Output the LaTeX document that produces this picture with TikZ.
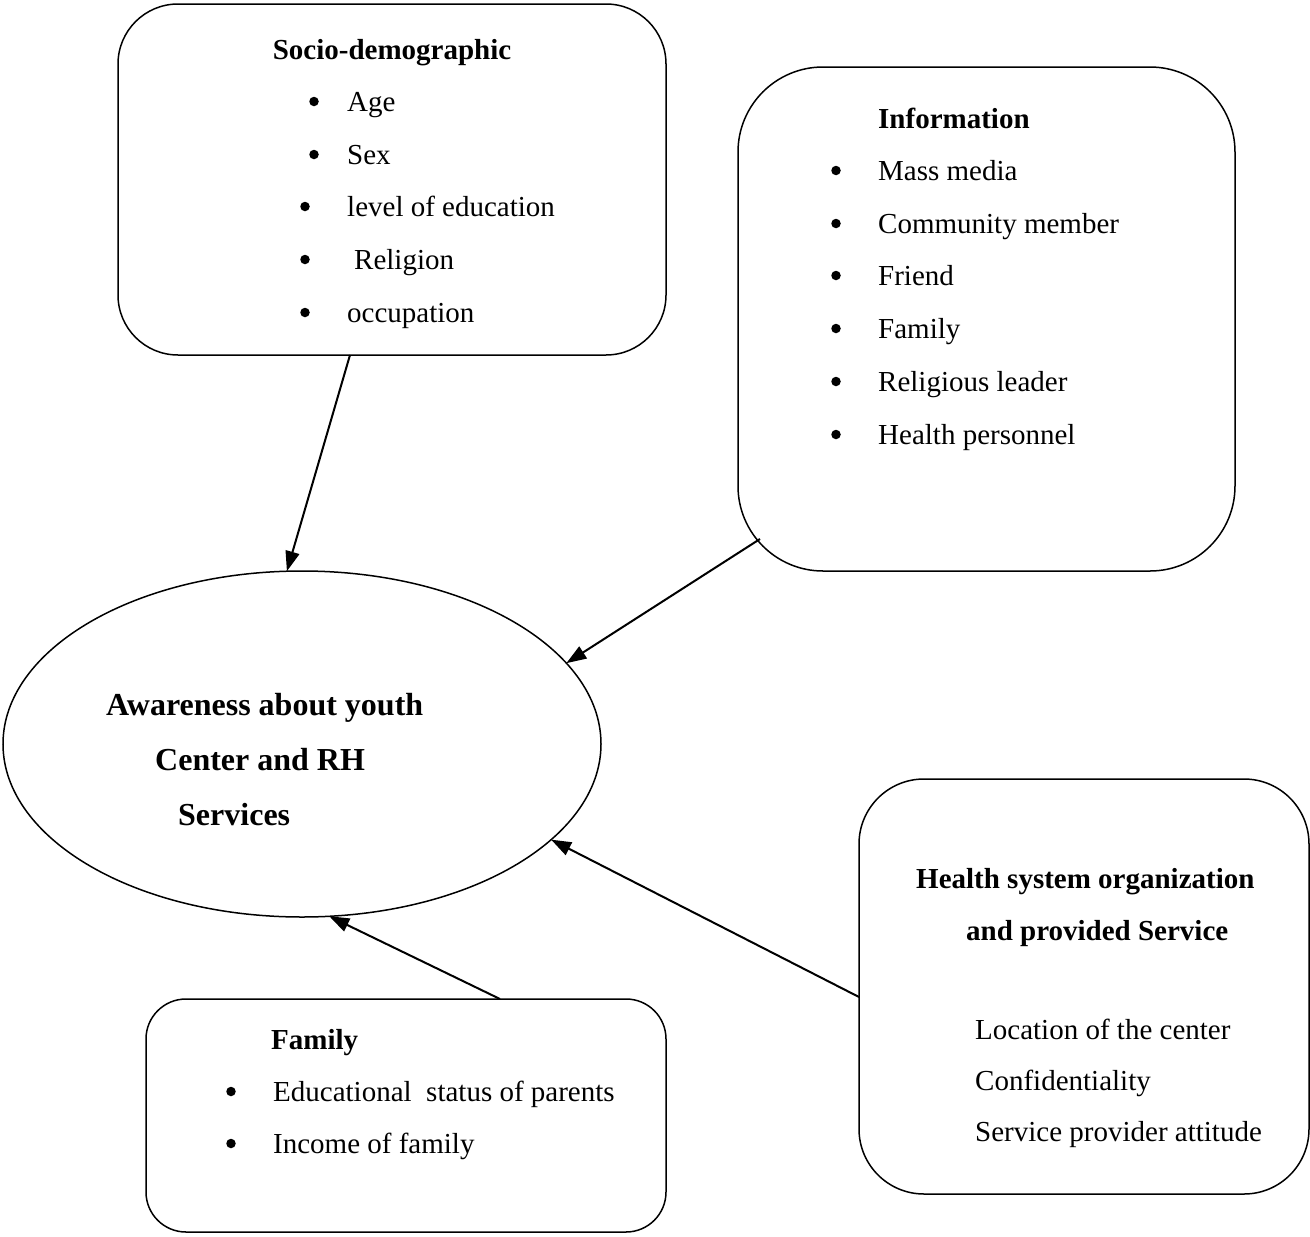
\documentclass[tikz,border=0pt]{standalone}
\usepackage{fontspec}
\setmainfont{Liberation Serif}
\usetikzlibrary{arrows.meta,shapes.geometric}
\begin{document}
\begin{tikzpicture}[x=1pt,y=1pt,
  box/.style={draw,line width=1.5pt,outer sep=0pt,inner sep=0pt},
  txt/.style={anchor=base west,inner sep=0pt,font=\fontsize{29}{35}\selectfont},
  hd/.style={anchor=base west,inner sep=0pt,font=\fontsize{29}{35}\selectfont\bfseries},
  big/.style={anchor=base west,inner sep=0pt,font=\fontsize{32}{38}\selectfont\bfseries},
  bul/.style={circle,fill=black,inner sep=0pt,minimum size=9.5pt,yshift=9.5pt},
  conn/.style={line width=2pt,-{Triangle[length=20pt,width=14pt]}}]
\useasboundingbox (0,0) rectangle (1310,-1237);

% boxes
\node[box,rounded corners=60pt,minimum width=548pt,minimum height=351pt] (socio) at (392,-179.5) {};
\node[box,rounded corners=85pt,minimum width=497pt,minimum height=504pt] (info) at (986.5,-319) {};
\node[box,rounded corners=40pt,minimum width=520pt,minimum height=233pt] (family) at (406,-1115.5) {};
\node[box,rounded corners=65pt,minimum width=450pt,minimum height=415pt] (health) at (1084,-986.5) {};
\node[box,ellipse,minimum width=598pt,minimum height=346pt] (aware) at (302,-744) {};

% Socio-demographic
\node[hd,anchor=base] (sh) at (392,-59) {Socio-demographic};
\node[bul] (sb1) at (314,-111) {};
\node[txt] (st1) at (347,-111) {Age};
\node[bul] (sb2) at (314,-164) {};
\node[txt] (st2) at (347,-164) {Sex};
\node[bul] (sb3) at (305,-216) {};
\node[txt] (st3) at (347,-216) {level of education};
\node[bul] (sb4) at (305,-269) {};
\node[txt] (st4) at (354,-269) {Religion};
\node[bul] (sb5) at (305,-322) {};
\node[txt] (st5) at (347,-322) {occupation};

% Information
\node[hd] (ih) at (878,-128) {Information};
\node[bul] (ib1) at (836,-180) {};
\node[txt] (it1) at (878,-180) {Mass media};
\node[bul] (ib2) at (836,-233) {};
\node[txt] (it2) at (878,-233) {Community member};
\node[bul] (ib3) at (836,-285) {};
\node[txt] (it3) at (878,-285) {Friend};
\node[bul] (ib4) at (836,-338) {};
\node[txt] (it4) at (878,-338) {Family};
\node[bul] (ib5) at (836,-391) {};
\node[txt] (it5) at (878,-391) {Religious leader};
\node[bul] (ib6) at (836,-444) {};
\node[txt] (it6) at (878,-444) {Health personnel};

% Awareness
\node[big] (a1) at (106,-715) {Awareness about youth};
\node[big] (a2) at (155,-770) {Center and RH};
\node[big] (a3) at (178,-825) {Services};

% Family
\node[hd] (fh) at (271,-1049) {Family};
\node[bul] (fb1) at (231,-1101) {};
\node[txt] (ft1) at (273,-1101) {Educational\ \ status of parents};
\node[bul] (fb2) at (231,-1153) {};
\node[txt] (ft2) at (273,-1153) {Income of family};

% Health system
\node[hd] (hh1) at (916,-888) {Health system organization};
\node[hd] (hh2) at (966,-940) {and provided Service};
\node[txt] (ht1) at (975,-1039) {Location of the center};
\node[txt] (ht2) at (975,-1090) {Confidentiality};
\node[txt] (ht3) at (975,-1141) {Service provider attitude};

% connectors
\draw[conn] ([xshift=-42pt]socio.south) -- (aware.95);
\draw[conn] ([xshift=22pt,yshift=32pt]info.south west) -- (aware.17);
\draw[conn] ([yshift=-10.5pt]health.west) -- (aware.-21);
\draw[conn] ([xshift=94pt]family.north) -- (aware.-81);
\end{tikzpicture}
\end{document}
